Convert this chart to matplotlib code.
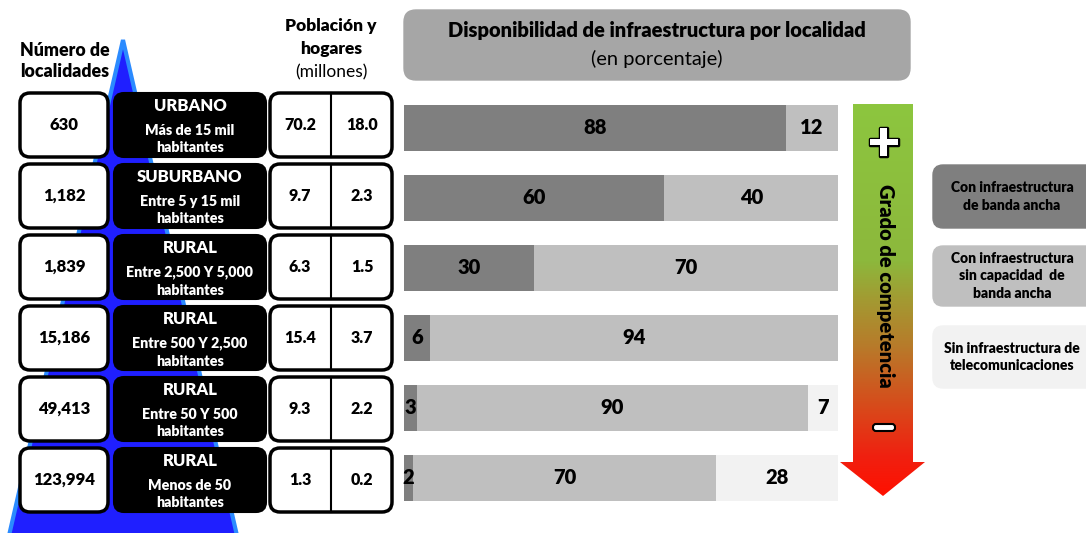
import matplotlib.pyplot as plt
import numpy as np
from matplotlib.patches import FancyBboxPatch, Polygon
from matplotlib.colors import LinearSegmentedColormap
import matplotlib.patheffects as pe

plt.rcParams['font.family'] = ['Lato', 'DejaVu Sans']
NEG = 'heavy'

# datos
localidades = ['630', '1,182', '1,839', '15,186', '49,413', '123,994']
tipos = ['URBANO', 'SUBURBANO', 'RURAL', 'RURAL', 'RURAL', 'RURAL']
rangos = ['Más de 15 mil\nhabitantes', 'Entre 5 y 15 mil\nhabitantes',
          'Entre 2,500 Y 5,000\nhabitantes', 'Entre 500 Y 2,500\nhabitantes',
          'Entre 50 Y 500\nhabitantes', 'Menos de 50\nhabitantes']
poblacion = ['70.2', '9.7', '6.3', '15.4', '9.3', '1.3']
hogares = ['18.0', '2.3', '1.5', '3.7', '2.2', '0.2']

banda_ancha = [88, 60, 30, 6, 3, 2]
sin_capacidad = [12, 40, 70, 94, 90, 70]
sin_infra = [0, 0, 0, 0, 7, 28]

leyenda = ['Con infraestructura\nde banda ancha',
           'Con infraestructura\nsin capacidad  de\nbanda ancha',
           'Sin infraestructura de\ntelecomunicaciones']
colores = ['#7f7f7f', '#bfbfbf', '#f2f2f2']

W, H = 1086, 533
fig = plt.figure(figsize=(W / 100, H / 100), dpi=100)
ax = fig.add_axes([0, 0, 1, 1])
ax.set_xlim(0, W)
ax.set_ylim(H, 0)
ax.axis('off')


def caja(x, y, w, h, fc, ec='black', lw=2.5, r=10, z=3):
    ax.add_patch(FancyBboxPatch((x, y), w, h, boxstyle=f'round,pad=0,rounding_size={r}',
                                fc=fc, ec=ec, lw=lw, zorder=z))


# piramide azul
ax.add_patch(Polygon([[123, 40], [8, 540], [238, 540]], closed=True,
                     fc='#1f1fff', ec='#2b8bff', lw=3, zorder=1))

# encabezados
ax.text(65, 61, 'Número de\nlocalidades', ha='center', va='center',
        fontsize=12.8, fontweight=NEG, linespacing=1.35, zorder=4)
ax.text(331, 26, 'Población y', ha='center', va='center', fontsize=12.5,
        fontweight=NEG, zorder=4)
ax.text(331, 49, 'hogares', ha='center', va='center', fontsize=12.5,
        fontweight=NEG, zorder=4)
ax.text(331, 72, '(millones)', ha='center', va='center', fontsize=12.5, zorder=4)

# filas de cajas
for i in range(6):
    yc = 125 + 71 * i
    top = yc - 32
    caja(20, top, 88, 64, 'white')
    ax.text(64, yc, localidades[i], ha='center', va='center', fontsize=12,
            fontweight=NEG, zorder=4)
    caja(114, top, 152, 64, 'black', lw=1.5)
    ax.text(190, yc - 19, tipos[i], ha='center', va='center', fontsize=12,
            fontweight=NEG, color='white', zorder=4)
    ax.text(190, yc + 14, rangos[i], ha='center', va='center', fontsize=10.3,
            fontweight=NEG, color='white', linespacing=1.4, zorder=4)
    caja(270, top, 122, 64, 'white')
    ax.plot([331, 331], [top, top + 64], color='black', lw=1.5, zorder=4)
    ax.text(300, yc, poblacion[i], ha='center', va='center', fontsize=11.5,
            fontweight=NEG, zorder=4)
    ax.text(362, yc, hogares[i], ha='center', va='center', fontsize=11.5,
            fontweight=NEG, zorder=4)

# titulo
caja(404, 10, 506, 70, '#a6a6a6', ec='#a6a6a6', lw=1, r=12)
ax.text(657, 31, 'Disponibilidad de infraestructura por localidad', ha='center',
        va='center', fontsize=14.5, fontweight=NEG, zorder=4)
ax.text(657, 59, '(en porcentaje)', ha='center', va='center', fontsize=14.5, zorder=4)

# flecha degradada
flecha = Polygon([[853, 104], [913, 104], [913, 462], [925, 462], [883, 496],
                  [840, 462], [853, 462]], closed=True, fc='none', ec='none')
ax.add_patch(flecha)
cmap = LinearSegmentedColormap.from_list('grado', [(0, '#8dc63f'), (0.4, '#8cb83c'),
                                                  (0.5, '#a39a32'), (0.62, '#b87a2a'),
                                                  (0.78, '#d9481a'), (0.9, '#f02010'),
                                                  (1, '#ff1000')])
grad = np.linspace(0, 1, 256).reshape(-1, 1)
im = ax.imshow(grad, cmap=cmap, extent=[840, 925, 496, 104], aspect='auto', zorder=2)
im.set_clip_path(flecha)
borde = [pe.withStroke(linewidth=2.5, foreground='black')]
ax.text(884, 144, '+', ha='center', va='center', fontsize=40, fontweight=NEG,
        color='white', zorder=4, path_effects=borde)
ax.add_patch(FancyBboxPatch((873, 424), 22, 7, boxstyle='round,pad=0,rounding_size=3',
                            fc='white', ec='black', lw=1.5, zorder=4))
ax.text(886, 286, 'Grado de competencia', ha='center', va='center', rotation=270,
        fontsize=14.5, fontweight=NEG, zorder=4)

# leyenda
ley_y = [165, 246, 326]
ley_h = [63, 60, 62]
for j in range(3):
    caja(933, ley_y[j], 170, ley_h[j], colores[j], ec=colores[j], lw=1, r=10)
    ax.text(1012, ley_y[j] + ley_h[j] / 2, leyenda[j], ha='center', va='center',
            fontsize=10, fontweight=NEG, linespacing=1.4, zorder=4)

# barras apiladas
bx = fig.add_axes([404 / W, 1 - 513 / H, 434 / W, 420 / H])
bx.set_xlim(0, 100)
bx.set_ylim(5.5, -0.5)
bx.axis('off')
filas = np.arange(6)
izq = np.zeros(6)
for serie, color in zip([banda_ancha, sin_capacidad, sin_infra], colores):
    vals = np.array(serie, dtype=float)
    bx.barh(filas, vals, left=izq, height=0.66, color=color)
    for k in filas:
        if vals[k] > 0:
            bx.text(izq[k] + vals[k] / 2, k, str(int(vals[k])), ha='center', va='center',
                    fontsize=14.5, fontweight=NEG)
    izq += vals

fig.savefig('out.png', dpi=100)
